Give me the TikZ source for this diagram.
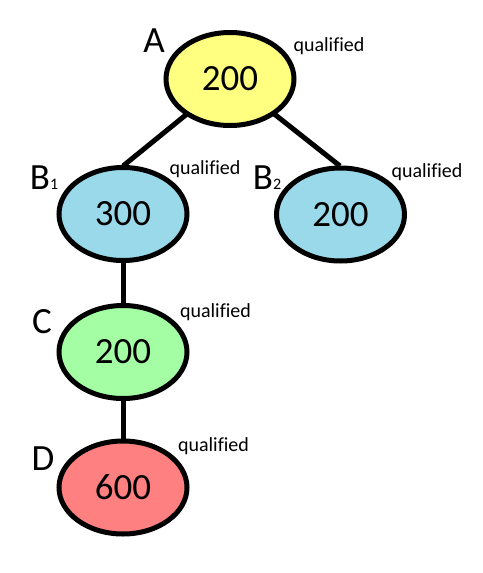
\documentclass[tikz,border=0pt]{standalone}
\usepackage{fontspec}
\setmainfont[Ligatures=NoCommon]{Carlito}
\usetikzlibrary{shapes.geometric}
\definecolor{cyel}{HTML}{FFFF80}
\definecolor{cblue}{HTML}{99D9EA}
\definecolor{cgreen}{HTML}{A4FFA4}
\definecolor{cred}{HTML}{FF8080}
\tikzset{
  val/.style={ellipse, draw=black, line width=5pt, minimum width=128pt, minimum height=93pt, inner sep=0pt, font=\fontsize{37}{37}\selectfont},
  lbl/.style={anchor=base, inner sep=0pt, font=\fontsize{37}{37}\selectfont},
  qual/.style={anchor=base, inner sep=0pt, font=\fontsize{20}{20}\selectfont},
  edge/.style={line width=5pt}
}
\begin{document}
\begin{tikzpicture}[x=1pt,y=-1pt]
\useasboundingbox (0,0) rectangle (482,573);
\fill[white] (0,0) rectangle (482,573);
% edges first
\coordinate (pA) at (230,79);
\coordinate (pB1) at (123,214);
\coordinate (pB2) at (340.5,214.5);
\coordinate (pC) at (123,352);
\coordinate (pD) at (123,487.5);
\coordinate (tB1) at (123,166);
\coordinate (tB2) at (340,166);
\draw[edge] (pA) -- (tB1);
\draw[edge] (pA) -- (tB2);
\draw[edge] (pB1) -- (pC);
\draw[edge] (pC) -- (pD);
% nodes
\node[val, fill=cyel] (A) at (pA) {200};
\node[val, fill=cblue] (B1) at (pB1) {300};
\node[val, fill=cblue] (B2) at (pB2) {200};
\node[val, fill=cgreen] (C) at (pC) {200};
\node[val, fill=cred] (D) at (pD) {600};
% letters
\node[lbl] (lA) at (154,52) {A};
\node[lbl] (lB1) at (44,189) {B{\fontsize{16}{16}\selectfont 1}};
\node[lbl] (lB2) at (267,189) {B{\fontsize{16}{16}\selectfont 2}};
\node[lbl] (lC) at (42,333) {C};
\node[lbl] (lD) at (43,470) {D};
% qualified
\node[qual] (qA) at (329,51) {qualified};
\node[qual] (qB1) at (205,174) {qualified};
\node[qual] (qB2) at (427,177) {qualified};
\node[qual] (qC) at (215.5,317) {qualified};
\node[qual] (qD) at (213.5,451) {qualified};
\end{tikzpicture}
\end{document}
